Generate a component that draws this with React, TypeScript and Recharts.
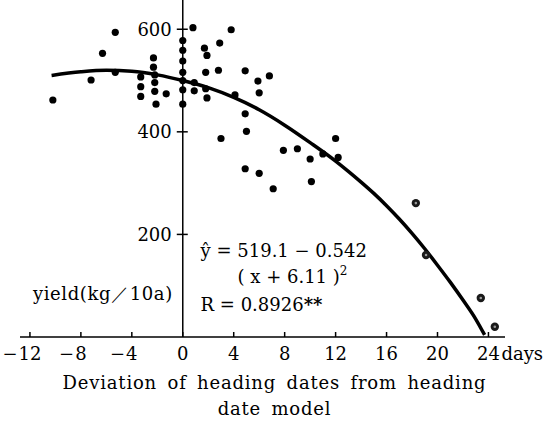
import { ComposedChart, Scatter, Line, XAxis, YAxis, ReferenceLine, ReferenceDot } from 'recharts';

// observed plots (days deviation, yield kg/10a)
const obsX = [-10.2, -7.2, -6.3, -5.3, -5.3, -3.3, -3.3, -3.3, -2.3, -2.3, -2.2, -2.2, -2.2, -2.1, -1.3,
  0, 0, 0, 0, 0, 0, 0, 0.8, 0.9, 0.9, 1.7, 1.9, 1.8, 1.8, 1.9, 2.8, 2.9, 3.8, 3.0, 4.1,
  4.9, 4.9, 5.0, 4.9, 5.9, 6.0, 6.0, 6.8, 7.1, 7.9, 9.0, 10.0, 10.1, 11.0, 12.0, 12.2];
const obsY = [462, 501, 553, 594, 516, 507, 488, 469, 544, 526, 511, 496, 479, 454, 474,
  578, 559, 538, 516, 500, 482, 454, 603, 496, 480, 563, 549, 516, 484, 466, 520, 573, 599, 387, 472,
  519, 435, 401, 328, 499, 476, 319, 509, 289, 364, 367, 347, 303, 357, 387, 350];

// the late-heading plots drawn as ringed dots
const lateX = [18.3, 19.1, 23.4, 24.5];
const lateY = [261, 160, 76, 20];

// fitted curve
const curveX = [-10.3, -8, -6, -4, -2, 0, 2, 4, 6, 8, 10, 12, 13, 14, 15, 16, 17, 18, 19, 20, 21, 22, 23, 23.7];
const curveY = [510, 517, 520, 518, 511, 500, 486, 467, 443, 413, 379, 343, 323, 302, 280, 256, 230, 202, 172, 140, 107, 72, 35, 4];

const xTicks = [-12, -8, -4, 0, 4, 8, 12, 16, 20, 24];
const yTicks = [200, 400, 600];

const points = obsX.map((x, i) => ({ x, y: obsY[i] }));
const late = lateX.map((x, i) => ({ x, y: lateY[i] }));
const curve = curveX.map((x, i) => ({ x, y: curveY[i] }));

const font = "'DejaVu Serif', 'Liberation Serif', serif";
const txt = { fontFamily: font, fontSize: 18, fill: '#000' };

function XTick(props: any) {
  const { x, y, payload } = props;
  const v = payload.value;
  const digits = String(Math.abs(v));
  const half = digits.length * 5.7;
  return (
    <g style={txt}>
      <line x1={x} x2={x} y1={y} y2={y - 5} stroke="#000" strokeWidth={1.5} />
      <text x={x} y={y + 23} textAnchor="middle">{digits}</text>
      {v < 0 && <text x={x - half - 1} y={y + 23} textAnchor="end">−</text>}
      {v === 24 && <text x={x + 13} y={y + 23} textAnchor="start">days</text>}
    </g>
  );
}

function AxisTitle(props: any) {
  const vb = props.viewBox;
  const cx = vb.x + vb.width / 2 + 12;
  return (
    <g style={{ ...txt, letterSpacing: 0.8, wordSpacing: 4 }}>
      <text x={cx} y={vb.y + 52} textAnchor="middle">Deviation of heading dates from heading</text>
      <text x={cx} y={vb.y + 78} textAnchor="middle">date model</text>
    </g>
  );
}

const RingDot = (props: any) => (
  <g>
    <circle cx={props.cx} cy={props.cy} r={4.2} fill="#1a1a1a" />
    <circle cx={props.cx} cy={props.cy} r={1.3} fill="#999" />
  </g>
);

export default function App() {
  return (
    <div style={{ position: 'absolute', left: 0, top: 0, background: '#fff' }}>
      <ComposedChart width={545} height={428} margin={{ top: 0, right: 40, bottom: 0, left: 20 }}>
        <XAxis
          type="number"
          dataKey="x"
          domain={[-12.78, 25.3]}
          allowDataOverflow
          ticks={xTicks}
          interval={0}
          tickSize={0}
          tickMargin={0}
          height={91}
          tick={<XTick />}
          axisLine={{ stroke: '#000', strokeWidth: 1.5 }}
          label={{ content: <AxisTitle /> }}
        />
        <YAxis type="number" dataKey="y" domain={[0, 657]} allowDataOverflow hide />
        <ReferenceLine x={0} stroke="#000" strokeWidth={1.5} />
        {yTicks.map((t) => (
          <ReferenceDot
            key={t}
            x={0}
            y={t}
            r={0}
            shape={(p: any) => (
              <g>
                <line x1={p.cx - 6} x2={p.cx + 5} y1={p.cy} y2={p.cy} stroke="#000" strokeWidth={1.5} />
                <text x={p.cx - 11} y={p.cy} dy="0.36em" textAnchor="end" style={txt}>{t}</text>
              </g>
            )}
          />
        ))}
        <ReferenceDot
          x={0}
          y={72}
          r={0}
          shape={(p: any) => (
            <text x={p.cx - 10} y={p.cy} textAnchor="end" style={{ ...txt, letterSpacing: 0.6 }}>yield(kg／10a)</text>
          )}
        />
        <ReferenceDot
          x={1.4}
          y={156}
          r={0}
          shape={(p: any) => (
            <text x={p.cx} y={p.cy} style={txt}>ŷ = 519.1 − 0.542</text>
          )}
        />
        <ReferenceDot
          x={4.3}
          y={105}
          r={0}
          shape={(p: any) => (
            <text x={p.cx} y={p.cy} style={txt}>
              ( x + 6.11 )<tspan dy={-8} fontSize={12}>2</tspan>
            </text>
          )}
        />
        <ReferenceDot
          x={1.4}
          y={51}
          r={0}
          shape={(p: any) => (
            <text x={p.cx} y={p.cy} style={txt}>
              R = 0.8926<tspan fontWeight="bold">**</tspan>
            </text>
          )}
        />
        <Line
          data={curve}
          dataKey="y"
          type="monotone"
          dot={false}
          stroke="#000"
          strokeWidth={3.5}
          isAnimationActive={false}
        />
        <Scatter data={points} dataKey="y" fill="#000" isAnimationActive={false}
          shape={(p: any) => <circle cx={p.cx} cy={p.cy} r={3.6} fill="#000" />} />
        <Scatter data={late} dataKey="y" isAnimationActive={false} shape={RingDot} />
      </ComposedChart>
    </div>
  );
}
